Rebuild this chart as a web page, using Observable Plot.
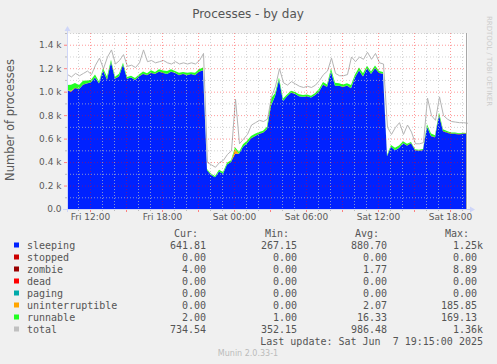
<!DOCTYPE html>
<html><head><meta charset="utf-8">
<script src="https://cdn.jsdelivr.net/npm/d3@7"></script>
<script src="https://cdn.jsdelivr.net/npm/@observablehq/plot@0.6"></script>
<style>body{margin:0;background:#f0f0f0;} svg{display:block;}</style>
</head><body><div id="chart"></div>
<script>
// sample times: every 20 minutes from Fri 6 Jun 2025 10:05 (UTC)
const startTime = Date.UTC(2025, 5, 6, 10, 5);
const stepMinutes = 20;

const sleeping = [1010,1000,1030,1020,1060,1070,1080,1120,1070,1180,1100,1250,1110,1130,1230,1110,1120,1100,1130,1150,
  1140,1160,1150,1170,1160,1150,1170,1160,1140,1150,1140,1150,1140,1170,1180,330,290,270,320,300,
  380,400,470,470,530,560,600,620,640,650,680,880,960,1100,920,960,990,980,960,955,
  960,950,970,1000,1060,1040,1170,1050,1050,1040,1050,1030,1120,1180,1130,1200,1150,1200,1160,1150,
  450,530,500,520,560,540,560,500,495,500,700,620,610,800,660,650,640,640,635,640,642];
const zombie = [2,2,3,2,2,1,1,2,2,2,3,2,2,2,2,1,1,2,2,2,
  2,2,2,1,1,1,2,2,2,2,1,1,2,2,2,1,1,1,0,0,
  0,1,1,1,1,1,2,2,2,2,2,2,2,1,1,1,2,2,2,2,
  1,1,2,2,2,2,2,1,1,2,2,2,2,2,1,1,2,2,2,2,
  1,1,1,2,2,2,2,2,3,3,3,3,3,3,4,4,4,4,4,4,4];
const uninterruptible = [0,6,0,0,0,0,0,0,0,0,0,0,0,0,0,0,0,0,0,0,
  0,0,0,0,0,0,0,0,0,0,0,0,0,0,0,0,0,0,0,0,
  0,0,40,0,0,0,0,0,0,0,0,0,0,0,0,0,0,0,0,0,
  0,0,0,0,0,0,0,0,0,0,0,0,0,0,0,0,0,0,0,0,
  0,0,0,0,0,0,0,0,0,0,0,0,0,0,0,0,0,0,0,0,0];
const runnable = [45,50,40,35,30,25,20,25,15,20,25,20,15,20,15,15,15,15,15,20,
  15,20,15,20,20,25,20,15,20,15,20,15,20,20,25,10,10,10,15,15,
  15,15,15,15,20,20,20,20,15,15,20,60,25,20,20,15,15,15,15,15,
  15,15,15,20,20,20,25,25,20,20,20,25,25,25,25,20,20,20,15,15,
  10,15,20,20,15,15,10,8,8,8,20,20,15,20,15,10,8,8,6,5,2];
const total = [1150,1130,1160,1140,1160,1180,1150,1230,1290,1200,1300,1360,1240,1270,1320,1220,1230,1210,1250,1360,
  1260,1270,1250,1260,1270,1250,1240,1260,1240,1250,1240,1250,1240,1270,1330,400,380,360,400,420,
  470,500,940,560,600,640,720,740,760,750,770,960,1050,1200,1080,1060,1090,1070,1050,1040,
  1050,1040,1060,1100,1150,1180,1290,1160,1140,1140,1150,1300,1260,1300,1280,1340,1280,1330,1250,1240,
  700,640,700,740,640,720,660,560,560,570,950,800,760,960,800,770,750,745,740,740,735];

const legendNames  = ["sleeping","stopped","zombie","dead","paging","uninterruptible","runnable","total"];
const legendColors = ["#0022ff","#cc0000","#990000","#ff0000","#00aaaa","#ffa500","#22ff22","#c0c0c0"];
const curValues = ["641.81","0.00","4.00","0.00","0.00","0.00","2.00","734.54"];
const minValues = ["267.15","0.00","0.00","0.00","0.00","0.00","1.00","352.15"];
const avgValues = ["880.70","0.00","1.77","0.00","0.00","2.07","16.33","986.48"];
const maxValues = ["1.25k","0.00","8.89","0.00","0.00","185.85","169.13","1.36k"];
const columnHeaders = ["Cur:","Min:","Avg:","Max:"];
const yTickValues = [0,200,400,600,800,1000,1200,1400];
const yMinorValues = [100,300,500,700,900,1100,1300,1500];

const times = sleeping.map((_, i) => new Date(startTime + i * stepMinutes * 60000));
const stacked = [["sleeping", sleeping], ["zombie", zombie], ["uninterruptible", uninterruptible], ["runnable", runnable]];
const stackData = stacked.flatMap(([name, vals]) => vals.map((v, i) => ({time: times[i], value: v, series: name})));
const totalData = total.map((v, i) => ({time: times[i], value: v}));

const xStart = new Date(startTime), xEnd = new Date(startTime + 100 * stepMinutes * 60000);
const hours = d3.utcHour.range(xStart, xEnd);
const majorX = hours.filter(d => d.getUTCHours() % 3 === 0);
const minorX = hours.filter(d => d.getUTCHours() % 3 !== 0);
const labelX = hours.filter(d => d.getUTCHours() % 6 === 0);
const fmtX = d3.utcFormat("%a %H:%M");

const chart = Plot.plot({
  width: 497, height: 364,
  marginLeft: 67, marginRight: 30, marginTop: 33, marginBottom: 155,
  style: {background: "#f0f0f0", fontFamily: "DejaVu Sans, sans-serif", fontSize: "9px", color: "#5a5a5a", overflow: "visible"},
  x: {type: "utc", domain: [xStart, xEnd]},
  y: {domain: [0, 1500]},
  color: {domain: legendNames, range: legendColors},
  marks: [
    Plot.frame({fill: "white", stroke: "none"}),
    Plot.areaY(stackData, {x: "time", y: "value", fill: "series"}),
    Plot.lineY(totalData, {x: "time", y: "value", stroke: "#b4b4b4", strokeWidth: 1}),
    Plot.ruleY(yMinorValues, {stroke: "#c0c0c0", strokeOpacity: 0.7, strokeDasharray: "1,2"}),
    Plot.ruleX(minorX, {stroke: "#c0c0c0", strokeOpacity: 0.7, strokeDasharray: "1,2"}),
    Plot.ruleY(yTickValues.filter(v => v > 0), {stroke: "#ff0000", strokeOpacity: 0.4, strokeDasharray: "1,2"}),
    Plot.ruleX(majorX, {stroke: "#ff0000", strokeOpacity: 0.4, strokeDasharray: "1,2"}),
    Plot.axisY({ticks: yTickValues, tickSize: 0, tickPadding: 6, label: null,
      tickFormat: v => v === 0 ? "0.0" : (v / 1000).toFixed(1) + " k"}),
    Plot.axisX({ticks: labelX, tickSize: 0, tickPadding: 4, label: null, tickFormat: fmtX})
  ]
});
document.getElementById("chart").appendChild(chart);

const svg = d3.select(chart);
const sx = chart.scale("x"), sy = chart.scale("y");
const x0 = sx.apply(xStart), x1 = sx.apply(xEnd);
const yb = sy.apply(0), yt = sy.apply(1500);
const axisColor = "#cfd6f8";

// small tick marks on axes
const tg = svg.append("g");
minorX.forEach(d => tg.append("line").attr("x1", sx.apply(d) + 0.5).attr("x2", sx.apply(d) + 0.5).attr("y1", yb).attr("y2", yb + 2).attr("stroke", "#bbbbbb"));
majorX.forEach(d => tg.append("line").attr("x1", sx.apply(d) + 0.5).attr("x2", sx.apply(d) + 0.5).attr("y1", yb).attr("y2", yb + 3).attr("stroke", "#ff8080"));
yMinorValues.forEach(v => tg.append("line").attr("x1", x0 - 2).attr("x2", x0).attr("y1", sy.apply(v) + 0.5).attr("y2", sy.apply(v) + 0.5).attr("stroke", "#bbbbbb"));
yTickValues.forEach(v => tg.append("line").attr("x1", x0 - 3).attr("x2", x0).attr("y1", sy.apply(v) + 0.5).attr("y2", sy.apply(v) + 0.5).attr("stroke", "#ff8080"));

// axes with arrows
svg.append("line").attr("x1", x0 + 0.5).attr("x2", x0 + 0.5).attr("y1", yb + 3).attr("y2", yt - 4).attr("stroke", axisColor);
svg.append("line").attr("x1", x0 - 4).attr("x2", x1 + 3).attr("y1", yb + 0.5).attr("y2", yb + 0.5).attr("stroke", axisColor);
svg.append("path").attr("d", `M${x0 + 0.5},${yt - 7}L${x0 - 2.5},${yt - 2}L${x0 + 3.5},${yt - 2}Z`).attr("fill", axisColor);
svg.append("path").attr("d", `M${x1 + 8},${yb + 0.5}L${x1 + 3},${yb - 2.5}L${x1 + 3},${yb + 3.5}Z`).attr("fill", axisColor);
svg.append("line").attr("x1", x1 - 0.5).attr("x2", x1 - 0.5).attr("y1", yt).attr("y2", yb).attr("stroke", "#a8a8a8");

// titles
svg.append("text").attr("x", 248).attr("y", 13.5).attr("dy", "0.35em").attr("text-anchor", "middle")
  .attr("font-family", "DejaVu Sans").attr("font-size", 12).attr("fill", "#555").text("Processes - by day");
svg.append("text").attr("transform", "translate(10,120) rotate(-90)").attr("dy", "0.35em").attr("text-anchor", "middle")
  .attr("font-family", "DejaVu Sans").attr("font-size", 11.5).attr("fill", "#5a5a5a").text("Number of processes");
svg.append("text").attr("transform", "translate(489,61) rotate(90)").attr("dy", "0.35em").attr("text-anchor", "middle")
  .attr("font-family", "DejaVu Sans").attr("font-size", 7).attr("fill", "#cccccc").text("RRDTOOL / TOBI OETIKER");

// legend
const mono = "DejaVu Sans Mono, monospace";
const colEnds = [206, 297, 387, 477];
const lg = svg.append("g").attr("font-family", mono).attr("font-size", 10).attr("fill", "#555");
columnHeaders.forEach((h, j) => lg.append("text").attr("x", colEnds[j] - 8).attr("y", 233.5).attr("dy", "0.35em").attr("text-anchor", "end").text(h));
legendNames.forEach((name, k) => {
  const yy = 245.5 + 12 * k;
  lg.append("rect").attr("x", 14).attr("y", yy - 3).attr("width", 5).attr("height", 5).attr("fill", legendColors[k]);
  lg.append("text").attr("x", 27).attr("y", yy).attr("dy", "0.35em").attr("text-anchor", "start").text(name);
  [curValues, minValues, avgValues, maxValues].forEach((vals, j) => {
    const s = vals[k];
    const hasUnit = /k$/.test(s);
    lg.append("text").attr("x", colEnds[j] + (hasUnit ? 6 : 0)).attr("y", yy).attr("dy", "0.35em").attr("text-anchor", "end").text(s);
  });
});
lg.append("text").attr("x", 483).attr("y", 341.5).attr("dy", "0.35em").attr("text-anchor", "end")
  .attr("xml:space", "preserve").style("white-space", "pre").text("Last update: Sat Jun  7 19:15:00 2025");
svg.append("text").attr("x", 248).attr("y", 353.5).attr("dy", "0.35em").attr("text-anchor", "middle")
  .attr("font-family", "DejaVu Sans").attr("font-size", 8).attr("fill", "#bbb").text("Munin 2.0.33-1");
</script>
</body></html>
